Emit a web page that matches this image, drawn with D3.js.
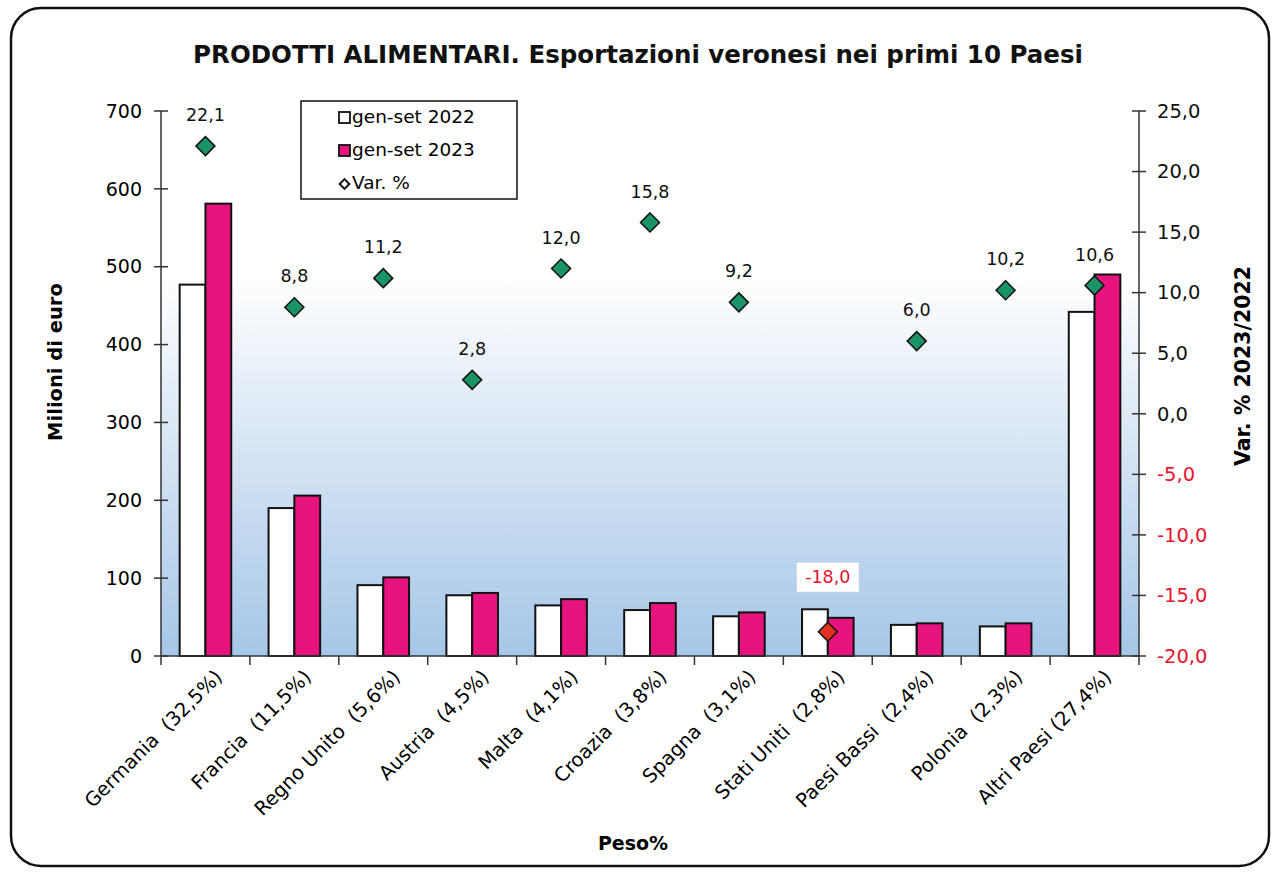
<!DOCTYPE html>
<html>
<head>
<meta charset="utf-8">
<script src="https://cdn.jsdelivr.net/npm/d3@7"></script>
<style>
  body { margin: 0; background: #fff; }
  svg { font-family: "DejaVu Sans", Verdana, sans-serif; }
  .pre { white-space: pre; }
</style>
</head>
<body>
<script>
// paesi (categorie) e valori in milioni di euro
const paesi = ["Germania  (32,5%)", "Francia  (11,5%)", "Regno Unito  (5,6%)", "Austria  (4,5%)",
  "Malta  (4,1%)", "Croazia  (3,8%)", "Spagna  (3,1%)", "Stati Uniti  (2,8%)",
  "Paesi Bassi  (2,4%)", "Polonia  (2,3%)", "Altri Paesi (27,4%)"];
const val2022 = [477, 190, 91, 78, 65, 59, 51, 60, 40, 38, 442];
const val2023 = [581, 206, 101, 81, 73, 68, 56, 49, 42, 42, 490];
const varPerc = [22.1, 8.8, 11.2, 2.8, 12.0, 15.8, 9.2, -18.0, 6.0, 10.2, 10.6];
const leftTicks = [0, 100, 200, 300, 400, 500, 600, 700];
const rightTicks = [-20, -15, -10, -5, 0, 5, 10, 15, 20, 25];

const width = 1279, height = 872;
const margin = {left: 161, right: 140, top: 111, bottom: 216};
const fmt = d3.format(".1f");
const itFmt = v => fmt(v).replace(".", ",").replace("\u2212", "-");

const svg = d3.select("body").append("svg")
  .attr("width", width)
  .attr("height", height);

// cornice arrotondata
svg.append("rect")
  .attr("x", 11).attr("y", 8)
  .attr("width", 1258).attr("height", 858)
  .attr("rx", 30)
  .attr("fill", "#fff")
  .attr("stroke", "#111")
  .attr("stroke-width", 2.5);

const defs = svg.append("defs");
const grad = defs.append("linearGradient")
  .attr("id", "bg").attr("x1", 0).attr("y1", 0).attr("x2", 0).attr("y2", 1);
grad.append("stop").attr("offset", "0").attr("stop-color", "#ffffff");
grad.append("stop").attr("offset", "0.3").attr("stop-color", "#ffffff");
grad.append("stop").attr("offset", "1").attr("stop-color", "#a6c6e8");

const x0 = margin.left, x1 = width - margin.right;
const y0 = height - margin.bottom, y1 = margin.top;

const x = d3.scaleBand().domain(paesi).range([x0, x1]);
const yL = d3.scaleLinear().domain([0, 700]).range([y0, y1]);
const yR = d3.scaleLinear().domain([-20, 25]).range([y0, y1]);

svg.append("rect")
  .attr("x", x0).attr("y", y1)
  .attr("width", x1 - x0).attr("height", y0 - y1)
  .attr("fill", "url(#bg)");

// barre
const bw = x.bandwidth() * 0.29;
const g = svg.append("g");
g.selectAll("rect.a")
  .data(paesi)
  .enter().append("rect")
  .attr("x", d => x(d) + x.bandwidth() / 2 - bw)
  .attr("y", (d, i) => yL(val2022[i]))
  .attr("width", bw)
  .attr("height", (d, i) => y0 - yL(val2022[i]))
  .attr("fill", "#fff")
  .attr("stroke", "#111")
  .attr("stroke-width", 2);
g.selectAll("rect.b")
  .data(paesi)
  .enter().append("rect")
  .attr("x", d => x(d) + x.bandwidth() / 2)
  .attr("y", (d, i) => yL(val2023[i]))
  .attr("width", bw)
  .attr("height", (d, i) => y0 - yL(val2023[i]))
  .attr("fill", "#e6147c")
  .attr("stroke", "#111")
  .attr("stroke-width", 2);

// asse sinistro
const axL = svg.append("g").attr("transform", `translate(${x0},0)`);
axL.append("line").attr("y1", y1).attr("y2", y0).attr("stroke", "#333").attr("stroke-width", 1.5);
axL.selectAll("line.t").data(leftTicks).enter().append("line")
  .attr("x1", -7).attr("x2", 7)
  .attr("y1", d => yL(d)).attr("y2", d => yL(d))
  .attr("stroke", "#333").attr("stroke-width", 1.5);
axL.selectAll("text").data(leftTicks).enter().append("text")
  .attr("x", -19).attr("y", d => yL(d)).attr("dy", "0.35em")
  .attr("text-anchor", "end")
  .attr("font-size", 19)
  .text(d => d);

// asse destro
const axR = svg.append("g").attr("transform", `translate(${x1},0)`);
axR.append("line").attr("y1", y1).attr("y2", y0).attr("stroke", "#333").attr("stroke-width", 1.5);
axR.selectAll("line.t").data(rightTicks).enter().append("line")
  .attr("x1", -7).attr("x2", 7)
  .attr("y1", d => yR(d)).attr("y2", d => yR(d))
  .attr("stroke", "#333").attr("stroke-width", 1.5);
axR.selectAll("text").data(rightTicks).enter().append("text")
  .attr("x", 18).attr("y", d => yR(d)).attr("dy", "0.35em")
  .attr("font-size", 19.5)
  .attr("fill", d => d < 0 ? "#e8142e" : "#111")
  .text(d => itFmt(d));

// asse delle categorie
const axB = svg.append("g");
axB.append("line").attr("x1", x0).attr("x2", x1).attr("y1", y0).attr("y2", y0)
  .attr("stroke", "#333").attr("stroke-width", 1.5);
axB.selectAll("line.t").data(d3.range(paesi.length + 1)).enter().append("line")
  .attr("x1", i => x0 + i * x.step()).attr("x2", i => x0 + i * x.step())
  .attr("y1", y0).attr("y2", y0 + 9)
  .attr("stroke", "#333").attr("stroke-width", 1.5);
axB.selectAll("text").data(paesi).enter().append("text")
  .attr("class", "pre")
  .attr("transform", d => `translate(${x(d) + x.bandwidth() / 2 + 18},${y0 + 22}) rotate(-45)`)
  .attr("text-anchor", "end")
  .attr("font-size", 19.5)
  .text(d => d);

// variazioni %
const dg = svg.append("g");
dg.selectAll("path").data(paesi).enter().append("path")
  .attr("d", d3.symbol().type(d3.symbolDiamond2).size(230))
  .attr("transform", (d, i) => `translate(${x(d) + x.bandwidth() / 2},${yR(varPerc[i])})`)
  .attr("fill", (d, i) => varPerc[i] < 0 ? "#e0321e" : "#1a9466")
  .attr("stroke", "#111").attr("stroke-width", 1.5);

dg.selectAll("rect.lb").data(paesi.filter((d, i) => varPerc[i] < 0)).enter().append("rect")
  .attr("x", d => x(d) + x.bandwidth() / 2 - 31)
  .attr("y", d => yR(varPerc[paesi.indexOf(d)]) - 69)
  .attr("width", 62).attr("height", 29)
  .attr("fill", "#fff");
dg.selectAll("text").data(paesi).enter().append("text")
  .attr("x", d => x(d) + x.bandwidth() / 2)
  .attr("y", (d, i) => yR(varPerc[i]) - (varPerc[i] < 0 ? 55 : 31))
  .attr("dy", "0.35em")
  .attr("text-anchor", "middle")
  .attr("font-size", 17.5)
  .attr("fill", (d, i) => varPerc[i] < 0 ? "#e8142e" : "#111")
  .text((d, i) => itFmt(varPerc[i]));

// titoli
svg.append("text")
  .attr("x", 638).attr("y", 63)
  .attr("text-anchor", "middle")
  .attr("font-size", 24.5).attr("font-weight", "bold")
  .attr("fill", "#111")
  .text("PRODOTTI ALIMENTARI. Esportazioni veronesi nei primi 10 Paesi");
svg.append("text")
  .attr("transform", "translate(62,362) rotate(-90)")
  .attr("text-anchor", "middle")
  .attr("font-size", 19.5).attr("font-weight", "bold")
  .text("Milioni di euro");
svg.append("text")
  .attr("transform", "translate(1250,366) rotate(-90)")
  .attr("text-anchor", "middle")
  .attr("font-size", 20.5).attr("font-weight", "bold")
  .text("Var. % 2023/2022");
svg.append("text")
  .attr("x", 633).attr("y", 850)
  .attr("text-anchor", "middle")
  .attr("font-size", 19).attr("font-weight", "bold")
  .text("Peso%");

// legenda
const leg = svg.append("g").attr("transform", "translate(301,101)");
leg.append("rect").attr("width", 216).attr("height", 98)
  .attr("fill", "#fff").attr("stroke", "#111").attr("stroke-width", 1.5);
const legItems = [
  {label: "gen-set 2022", fill: "#fff", kind: "sq"},
  {label: "gen-set 2023", fill: "#e6147c", kind: "sq"},
  {label: "Var. %", fill: "#fff", kind: "dm"}
];
legItems.forEach(function(it, i) {
  let cy = 16 + i * 33;
  if (it.kind === "sq") {
    leg.append("rect").attr("x", 38).attr("y", cy - 5).attr("width", 11).attr("height", 11)
      .attr("fill", it.fill).attr("stroke", "#111").attr("stroke-width", 1.8);
  } else {
    leg.append("path").attr("d", d3.symbol().type(d3.symbolDiamond2).size(60))
      .attr("transform", `translate(43.5,${cy + 1})`)
      .attr("fill", "#fff").attr("stroke", "#111").attr("stroke-width", 2);
  }
  leg.append("text").attr("x", 51).attr("y", cy).attr("dy", "0.35em")
    .attr("font-size", 18.5).text(it.label);
});
</script>
</body>
</html>
